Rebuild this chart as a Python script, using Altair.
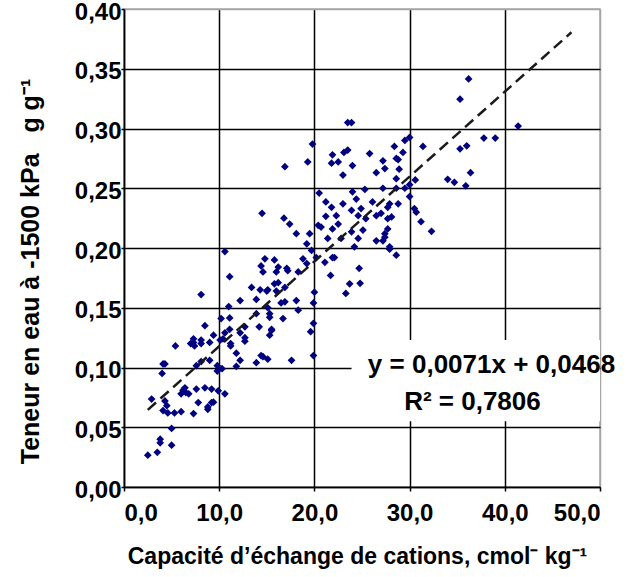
import altair as alt
import pandas as pd

# Capacité d'échange de cations (cmol kg-1) and water content at -1500 kPa (g g-1)
cec = [
    5.4, 7.0, 7.3, 8.1, 9.0, 10.1, 11.2,
    4.3, 4.0, 7.6, 8.1, 9.0, 9.8, 9.8, 10.3,
    11.2, 11.8, 12.2, 11.8, 13.9, 14.4, 12.7,
    6.2, 6.5, 6.8, 6.4, 6.0, 7.6, 8.5, 9.2, 9.9, 10.6,
    7.8, 9.2, 8.8, 7.3, 8.8, 9.4,
    2.9, 4.3, 4.5, 4.1, 4.6, 5.3, 6.0,
    5.0, 3.8, 3.8, 5.0, 2.5, 3.5,
    14.5, 16.8, 17.4, 10.6, 11.1, 8.1,
    14.8, 15.8, 14.4, 14.6, 16.0, 17.1, 16.2,
    13.4, 14.3, 15.1, 16.0, 16.9,
    12.2, 13.9, 11.0, 16.5, 15.1, 13.9, 15.3, 16.7,
    10.2, 11.1, 8.5, 11.1, 12.2, 12.7, 14.2, 15.5, 15.3,
    12.7, 10.6, 10.4, 9.4, 7.3, 7.4, 8.1, 4.1, 14.6,
    22.1, 21.1, 20.2, 21.7, 24.7, 23.7, 24.8, 23.3,
    20.0, 19.9, 18.3, 18.1, 16.9, 19.9, 19.6, 19.9,
    15.5, 17.6, 15.1, 16.2, 17.2, 18.3, 19.2,
    15.8, 15.0, 15.3,
    23.9, 23.5, 19.8, 16.9, 19.3, 21.9, 21.8, 22.5,
    23.1, 23.5, 24.0, 23.0, 25.8, 27.2, 27.4, 26.5,
    28.4, 28.6, 28.6, 20.5, 24.0, 25.3, 24.4, 21.2,
    21.8, 23.0, 23.9, 24.9, 26.1, 27.2, 27.7, 22.3,
    21.2, 24.6, 25.4, 26.5, 27.7, 18.1,
    20.4, 20.7, 22.5, 21.9, 19.5, 19.2, 19.7, 21.4,
    22.8, 23.9, 24.6, 25.1, 26.5, 27.4, 27.7, 24.2,
    27.9, 21.9, 18.8, 28.6,
    36.2, 35.3, 41.4, 37.8, 39.0, 35.3, 36.0, 36.4,
    34.0, 34.7, 35.9, 31.4, 30.0, 29.5, 29.3,
    28.8, 28.9, 30.6, 30.0, 29.5, 28.6,
    30.0, 28.8, 27.9, 30.5, 30.7, 27.0,
    28.1, 31.2, 32.3, 27.4, 27.2, 27.9,
]
teneur = [
    0.118, 0.120, 0.121, 0.123, 0.121, 0.123, 0.120,
    0.103, 0.095, 0.1015, 0.105, 0.106, 0.1015, 0.097, 0.099,
    0.118, 0.112, 0.106, 0.101, 0.104, 0.110, 0.122,
    0.081, 0.079, 0.078, 0.083, 0.078, 0.082, 0.083, 0.082, 0.0805, 0.078,
    0.0707, 0.0707, 0.065, 0.0615, 0.067, 0.071,
    0.0736, 0.072, 0.068, 0.064, 0.062, 0.062, 0.063,
    0.049, 0.040, 0.037, 0.035, 0.0266, 0.029,
    0.229, 0.225, 0.220, 0.197, 0.176, 0.161,
    0.191, 0.190, 0.185, 0.180, 0.180, 0.183, 0.171,
    0.167, 0.165, 0.165, 0.164, 0.167,
    0.156, 0.157, 0.151, 0.154, 0.150, 0.145, 0.142, 0.141,
    0.141, 0.1415, 0.135, 0.132, 0.129, 0.134, 0.134, 0.132, 0.127,
    0.125, 0.129, 0.124, 0.127, 0.124, 0.118, 0.120, 0.103, 0.109,
    0.192, 0.188, 0.192, 0.177, 0.183, 0.170, 0.1705, 0.162,
    0.163, 0.154, 0.148, 0.156, 0.155, 0.137, 0.130, 0.110,
    0.131, 0.106, 0.107, 0.184, 0.181, 0.180, 0.187,
    0.170, 0.164, 0.145,
    0.305, 0.305, 0.287, 0.268, 0.272, 0.278, 0.271, 0.272,
    0.280, 0.282, 0.269, 0.261, 0.279, 0.273, 0.2665, 0.263,
    0.285, 0.275, 0.258, 0.246, 0.247, 0.249, 0.241, 0.2385,
    0.234, 0.237, 0.2315, 0.233, 0.2385, 0.250, 0.234, 0.227,
    0.2265, 0.227, 0.2245, 0.227, 0.2245, 0.212,
    0.219, 0.2175, 0.220, 0.216, 0.212, 0.2035, 0.198, 0.208,
    0.208, 0.2135, 0.208, 0.215, 0.206, 0.209, 0.216, 0.201,
    0.201, 0.192, 0.191, 0.194,
    0.3415, 0.3245, 0.302, 0.292, 0.292, 0.283, 0.2855, 0.263,
    0.2575, 0.255, 0.252, 0.285, 0.2925, 0.290, 0.280,
    0.274, 0.266, 0.257, 0.253, 0.250, 0.250,
    0.243, 0.237, 0.237, 0.233, 0.230, 0.229,
    0.226, 0.222, 0.214, 0.212, 0.206, 0.199,
]

# Linear fit reported on the chart
slope = 0.0071
intercept = 0.0468
r_squared = 0.7806
trend_cec = [2.5, 47.0]

# Text box for the fit equation (data coordinates)
box_cec = [23.9, 50.0]
box_teneur = [0.055, 0.123]
eq_pos = [38.6, 0.102]
r2_pos = [36.6, 0.071]

Y_TITLE = "Teneur en eau à -1500 kPa\u00a0\u00a0\u00a0g g⁻¹"
X_TITLE = "Capacité d’échange de cations, cmol⁻ kg⁻¹"


def fr(v, d):
    return f"{v:.{d}f}".replace(".", ",")


points = pd.DataFrame({"cec": cec, "teneur": teneur})
trend = pd.DataFrame({"cec": trend_cec,
                      "teneur": [slope * x + intercept for x in trend_cec]})
box = pd.DataFrame({"x": [box_cec[0]], "x2": [box_cec[1]],
                    "y": [box_teneur[0]], "y2": [box_teneur[1]]})
labels = pd.DataFrame({
    "x": [eq_pos[0], r2_pos[0]],
    "y": [eq_pos[1], r2_pos[1]],
    "txt": [f"y = {fr(slope, 4)}x + {fr(intercept, 4)}", f"R² = {fr(r_squared, 4)}"],
})

FONT = "Liberation Sans"

x_scale = alt.Scale(domain=[0, 50], nice=False)
y_scale = alt.Scale(domain=[0, 0.40], nice=False)

x_axis = alt.Axis(
    values=[0, 10, 20, 30, 40, 50],
    labelExpr="replace(format(datum.value, '.1f'), '.', ',')",
    title=X_TITLE,
    tickSize=4,
    labelPadding=22,
    labelBaseline="middle",
    labelFontSize=24,
    titleFontSize=23,
    titleX=233,
    titleY=69,
    titleBaseline="middle",
    titleAlign="center",
    gridColor=alt.condition("datum.value >= 50", alt.value("#a6a6a6"), alt.value("black")),
)
y_axis = alt.Axis(
    values=[0, 0.05, 0.10, 0.15, 0.20, 0.25, 0.30, 0.35, 0.40],
    labelExpr="replace(format(datum.value, '.2f'), '.', ',')",
    title=Y_TITLE,
    tickSize=3,
    labelPadding=0,
    labelOffset=3,
    labelFontSize=24,
    titleFontSize=25,
    titleAngle=270,
    titleX=-94,
    titleY=262,
    titleBaseline="middle",
    titleAlign="center",
    gridColor=alt.condition("datum.value >= 0.4", alt.value("#a6a6a6"), alt.value("black")),
)

scatter = alt.Chart(points).mark_point(
    shape="diamond", filled=True, size=60, color="#000080", opacity=1
).encode(
    x=alt.X("cec:Q", scale=x_scale, axis=x_axis),
    y=alt.Y("teneur:Q", scale=y_scale, axis=y_axis),
)

trend_line = alt.Chart(trend).mark_line(
    color="#1a1a1a", strokeWidth=2.5, strokeDash=[11, 6]
).encode(
    x=alt.X("cec:Q", scale=x_scale),
    y=alt.Y("teneur:Q", scale=y_scale),
)

eq_box = alt.Chart(box).mark_rect(color="white").encode(
    x=alt.X("x:Q", scale=x_scale), x2="x2:Q",
    y=alt.Y("y:Q", scale=y_scale), y2="y2:Q",
)

eq_text = alt.Chart(labels).mark_text(
    font=FONT, fontSize=26, fontWeight="bold", color="black",
    align="center", baseline="middle",
).encode(
    x=alt.X("x:Q", scale=x_scale),
    y=alt.Y("y:Q", scale=y_scale),
    text="txt:N",
)

chart = alt.layer(scatter, trend_line, eq_box, eq_text).properties(
    width=476,
    height=478,
    autosize=alt.AutoSizeParams(type="none"),
    padding={"left": 124, "top": 9, "right": 36, "bottom": 90},
    background="white",
).configure_view(
    stroke="#a6a6a6", strokeWidth=1.5,
).configure_axis(
    labelFont=FONT, labelFontWeight="bold", labelColor="black",
    titleFont=FONT, titleFontWeight="bold", titleColor="black",
    domainColor="black", domainWidth=1.5,
    tickColor="black", tickWidth=1.5,
    gridWidth=1.5, gridOpacity=1,
)

chart.save("out.html", embed_options={"renderer": "svg", "actions": False})
